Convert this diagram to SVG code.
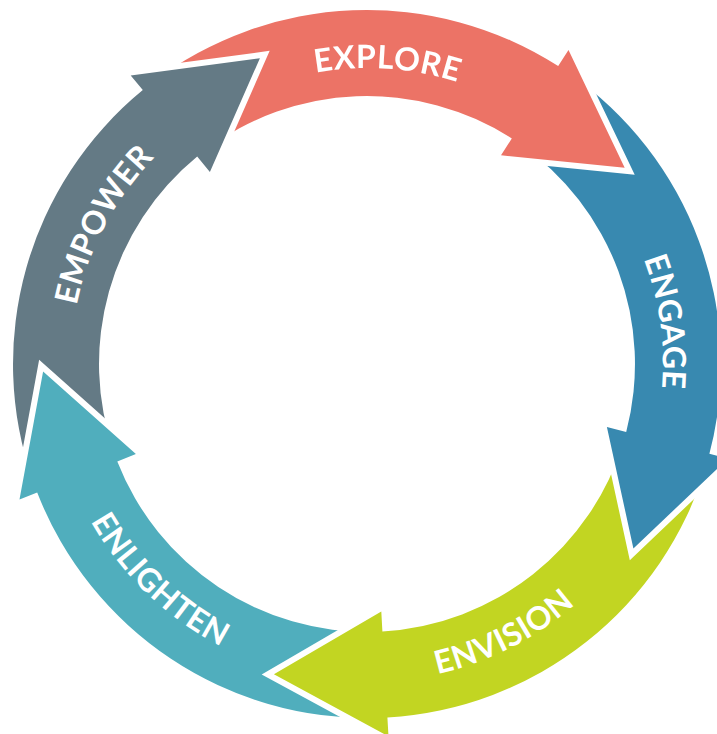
<svg xmlns="http://www.w3.org/2000/svg" width="717" height="734" viewBox="0 0 717 734">
<defs>
<style>
.edge{fill:none;stroke:#fff;stroke-width:12;stroke-linejoin:miter;stroke-miterlimit:10}
.lbl{font-family:Lato,"Open Sans","Liberation Sans",sans-serif;font-weight:700;font-size:32px;letter-spacing:0.5px;fill:#fff}
.explore{fill:#EC7366}
.engage{fill:#3889B0}
.envision{fill:#C2D522}
.enlighten{fill:#50AEBD}
.empower{fill:#647A85}
</style>
<path id="p-explore" d="M 96.4 244.1 A 296 296 0 0 1 651.4 281.9"/>
<path id="p-engage" d="M 428.5 74.5 A 296 296 0 0 1 506.0 625.3"/>
<path id="p-empower" d="M 147.6 562.8 A 296 296 0 0 1 407.2 70.7"/>
<path id="p-envision" d="M 149.7 596.2 A 318 318 0 0 0 682.7 325.8"/>
<path id="p-enlighten" d="M 76.0 235.7 A 318 318 0 0 0 507.4 649.3"/>
<path id="head-empower" d="M 209.9 172.1 L 259.9 58.2 L 130.7 75.4"/>
<mask id="m-explore" maskUnits="userSpaceOnUse" x="0" y="0" width="717" height="734">
<rect width="717" height="734" fill="#fff"/>
<use href="#head-empower" fill="#000" stroke="#000" stroke-width="12" stroke-linejoin="miter"/>
</mask>
</defs>
<rect width="717" height="734" fill="#fff"/>
<g id="empower">
<use href="#head-empower" class="edge"/>
<path class="empower" d="M 32.9 481.0 A 354 354 0 0 1 142.8 90.1 L 130.7 75.4 L 259.9 58.2 L 209.9 172.1 L 197.2 156.6 A 268 268 0 0 0 114.1 452.6 Z"/>
<text class="lbl"><textPath href="#p-empower" startOffset="50%" text-anchor="middle">EMPOWER</textPath></text>
</g>
<g id="enlighten">
<path class="edge" d="M 135.9 454.1 L 43.1 371.4 L 19.5 499.5"/>
<path class="enlighten" d="M 375.0 717.9 A 354 354 0 0 1 37.2 492.6 L 19.5 499.5 L 43.1 371.4 L 135.9 454.1 L 117.3 461.4 A 268 268 0 0 0 373.1 631.9 Z"/>
<text class="lbl"><textPath href="#p-enlighten" startOffset="50%" text-anchor="middle">ENLIGHTEN</textPath></text>
</g>
<g id="envision">
<path class="edge" d="M 381.3 611.6 L 273.9 674.3 L 388.5 736.4"/>
<path class="envision" d="M 706.1 465.7 A 354 354 0 0 1 387.4 717.4 L 388.5 736.4 L 273.9 674.3 L 381.3 611.6 L 382.4 631.5 A 268 268 0 0 0 623.7 441.0 Z"/>
<text class="lbl"><textPath href="#p-envision" startOffset="50%" text-anchor="middle">ENVISION</textPath></text>
</g>
<g id="engage">
<path class="edge" d="M 606.9 426.9 L 633.4 548.5 L 727.8 458.7"/>
<path class="engage" d="M 568.5 73.0 A 354 354 0 0 1 709.4 453.8 L 727.8 458.7 L 633.4 548.5 L 606.9 426.9 L 626.2 432.0 A 268 268 0 0 0 519.6 143.7 Z"/>
<text class="lbl"><textPath href="#p-engage" startOffset="50%" text-anchor="middle">ENGAGE</textPath></text>
</g>
<g id="explore" mask="url(#m-explore)">
<path class="edge" d="M 501.0 155.3 L 624.7 167.7 L 568.5 50.1"/>
<path class="explore" d="M 152.5 82.4 A 354 354 0 0 1 558.2 66.1 L 568.5 50.1 L 624.7 167.7 L 501.0 155.3 L 511.8 138.5 A 268 268 0 0 0 204.6 150.8 Z"/>
<text class="lbl"><textPath href="#p-explore" startOffset="50%" text-anchor="middle">EXPLORE</textPath></text>
</g>
</svg>
